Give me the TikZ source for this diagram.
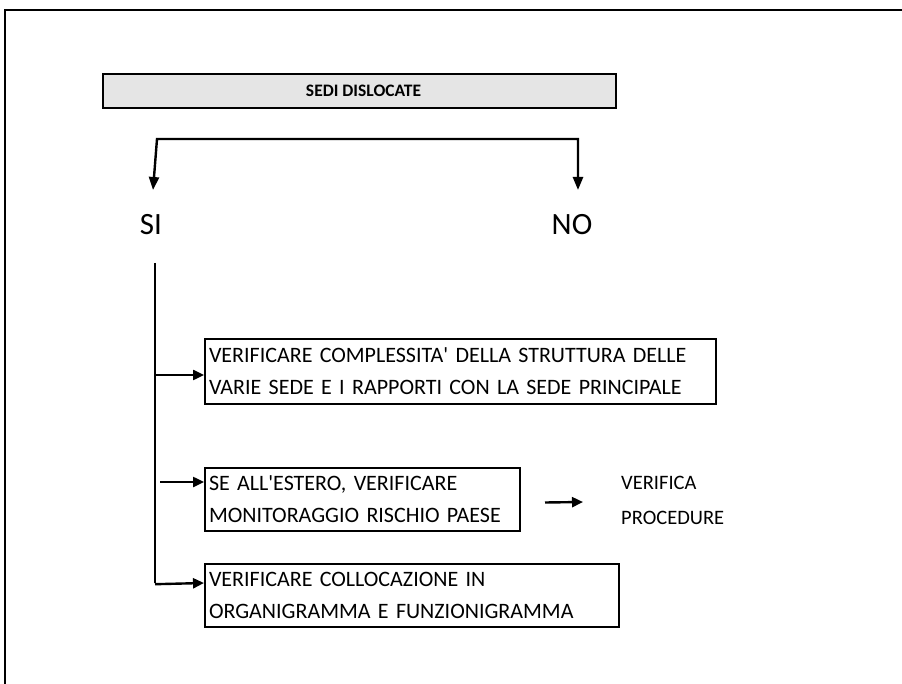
\documentclass[tikz,border=0pt]{standalone}
\usepackage{fontspec}
\setmainfont{Carlito}
\usetikzlibrary{arrows.meta,calc}

\begin{document}
\begin{tikzpicture}[x=1pt,y=-1pt,
  conn/.style={line width=2.4pt},
  arr/.style={line width=2.4pt,-{Triangle[width=10pt,length=11pt]}},
  textbox/.style={draw,line width=2pt,anchor=north west,align=left,
    inner xsep=4pt,inner ysep=0pt,font=\fontsize{22}{32}\selectfont},
  titlebox/.style={draw,line width=2.4pt,fill=black!10,minimum width=513pt,
    minimum height=34pt,font=\fontsize{17.5}{20}\selectfont\bfseries},
  answer/.style={font=\fontsize{31}{33}\selectfont},
  note/.style={align=left,anchor=west,inner sep=0pt,
    font=\fontsize{20.5}{35}\selectfont}]
\useasboundingbox (0,0) rectangle (902,684);

% outer frame (top and left sides only)
\draw[line width=2.4pt] (5,684) -- (5,10) -- (902,10);

% heading
\node[titlebox] (title) at (359.5,91) {\hspace{8pt}SEDI DISLOCATE};

% yes / no split
\node[answer] (si) at (151,225) {SI};
\node[answer] (no) at (572,225) {NO};
\coordinate (lt) at (157,139);
\coordinate (rt) at (578,139);
\coordinate (ltip) at (153,190);
\coordinate (rtip) at (578,190);
\draw[conn,{Triangle[width=10pt,length=13pt]}-{Triangle[width=10pt,length=13pt]}]
  (ltip) -- (lt) -- (rt) -- (rtip);

% checks on the "SI" branch
\node[textbox,text width=503pt,minimum height=65pt] (b1) at (204,338)
  {VERIFICARE COMPLESSITA\textquotesingle{} DELLA STRUTTURA DELLE\\VARIE SEDE E I RAPPORTI CON LA SEDE PRINCIPALE};
\node[textbox,text width=307pt,minimum height=63pt] (b2) at (204,467)
  {SE ALL\textquotesingle{}ESTERO, VERIFICARE\\MONITORAGGIO RISCHIO PAESE};
\node[textbox,text width=406pt,minimum height=63pt] (b3) at (204,563)
  {VERIFICARE COLLOCAZIONE IN\\ORGANIGRAMMA E FUNZIONIGRAMMA};
\node[note] (verif) at (621,500) {VERIFICA\\PROCEDURE};

% trunk line and branches
\coordinate (top) at (155,263);
\coordinate (j1) at (155,375);
\coordinate (j2) at (160,482);
\coordinate (bot) at (155,583);
\draw[conn] (top) -- (bot);
\draw[arr] (j1) -- (j1 -| b1.west);
\draw[arr] (j2) -- (j2 -| b2.west);
\draw[arr] ($(bot)+(0,-1.2pt)$) -- (bot -| b3.west);
\draw[arr] ($(b2.east)+(24,3)$) -- ($(verif.west)+(-38,2)$);
\end{tikzpicture}
\end{document}
